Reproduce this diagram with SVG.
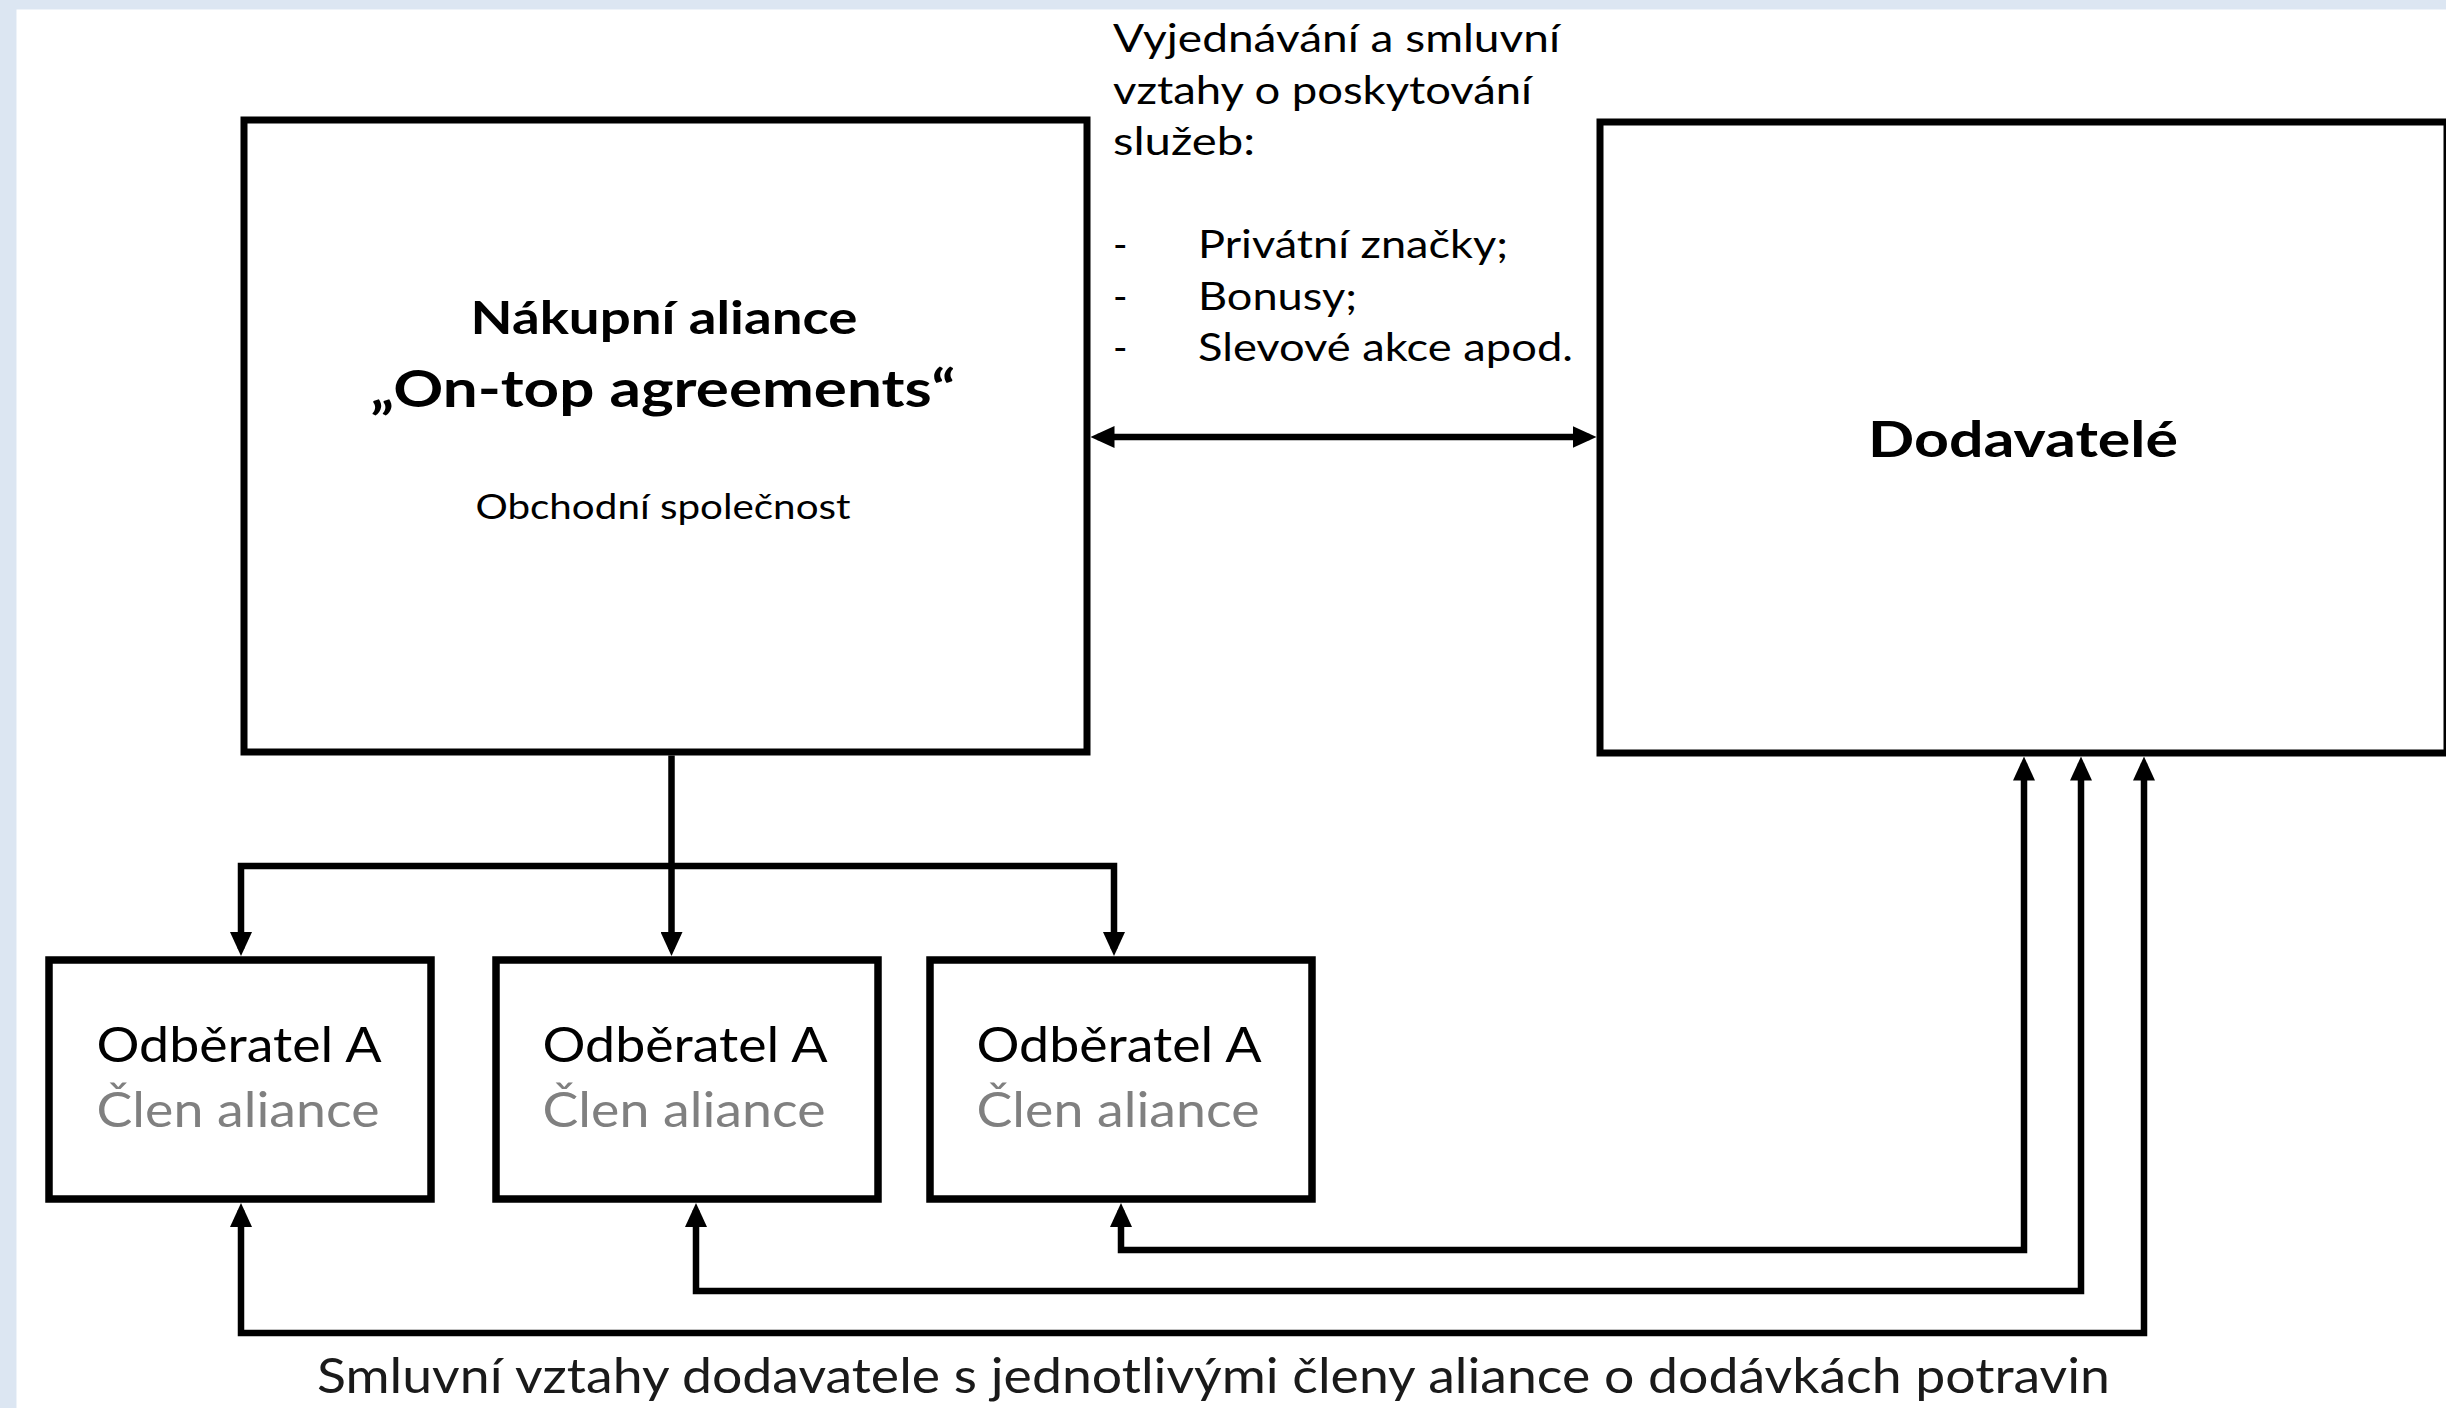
<svg xmlns="http://www.w3.org/2000/svg" width="2446" height="1408" viewBox="0 0 2446 1408">
  <style>
    text { font-family: Lato, "Open Sans", "Liberation Sans", sans-serif; fill: #000; }
    .box { fill: #fff; stroke: #000; stroke-width: 7; }
    .sbox { fill: #fff; stroke: #000; stroke-width: 7.5; }
    .conn { fill: none; stroke: #000; stroke-width: 6.5; stroke-linejoin: miter; }
    .b { font-weight: 700; }
    .mem { font-size: 48px; text-anchor: middle; }
    .gray { fill: #808080; }
    .note { font-size: 39px; }
  </style>
  <defs>
    <marker id="ah" markerUnits="userSpaceOnUse" markerWidth="24" markerHeight="22" refX="17" refY="11" orient="auto-start-reverse" viewBox="0 0 24 22">
      <path d="M0,0 L24,11 L0,22 z" fill="#000"/>
    </marker>
  </defs>

  <rect x="0" y="0" width="2446" height="1408" fill="#dce6f2"/>
  <rect x="16.5" y="9.5" width="2430" height="1399" fill="#fff"/>

  <g id="connectors">
    <path class="conn" d="M1097.5 437 H1589.5" marker-start="url(#ah)" marker-end="url(#ah)"/>
    <path class="conn" d="M671.5 755.5 V949" marker-end="url(#ah)"/>
    <path class="conn" d="M241 949 V866 H1114 V949" marker-start="url(#ah)" marker-end="url(#ah)"/>
    <path class="conn" d="M1121 1210 V1250 H2024 V763.5" marker-start="url(#ah)" marker-end="url(#ah)"/>
    <path class="conn" d="M696 1210 V1291 H2081 V763.5" marker-start="url(#ah)" marker-end="url(#ah)"/>
    <path class="conn" d="M241 1210 V1333 H2144 V763.5" marker-start="url(#ah)" marker-end="url(#ah)"/>
  </g>

  <g id="node-alliance">
    <rect class="box" x="244" y="120" width="843" height="632"/>
    <text class="b" x="664" y="334" font-size="46.5" text-anchor="middle" textLength="387" lengthAdjust="spacingAndGlyphs">Nákupní aliance</text>
    <text class="b" x="663" y="407" font-size="52" text-anchor="middle" textLength="585" lengthAdjust="spacingAndGlyphs">„On-top agreements“</text>
    <text x="663" y="519" font-size="35" text-anchor="middle" textLength="375" lengthAdjust="spacingAndGlyphs">Obchodní společnost</text>
  </g>

  <g id="node-suppliers">
    <rect class="box" x="1600" y="122" width="847" height="631"/>
    <text class="b" x="2023" y="457" font-size="49" text-anchor="middle" textLength="310" lengthAdjust="spacingAndGlyphs">Dodavatelé</text>
  </g>

  <g id="node-member1">
    <rect class="sbox" x="49" y="960" width="382" height="239"/>
    <text class="mem" x="239" y="1061.5" textLength="285" lengthAdjust="spacingAndGlyphs">Odběratel A</text>
    <text class="mem gray" x="238" y="1126.5" textLength="283" lengthAdjust="spacingAndGlyphs">Člen aliance</text>
  </g>

  <g id="node-member2">
    <rect class="sbox" x="496" y="960" width="382" height="239"/>
    <text class="mem" x="685" y="1061.5" textLength="285" lengthAdjust="spacingAndGlyphs">Odběratel A</text>
    <text class="mem gray" x="684" y="1126.5" textLength="283" lengthAdjust="spacingAndGlyphs">Člen aliance</text>
  </g>

  <g id="node-member3">
    <rect class="sbox" x="930" y="960" width="382" height="239"/>
    <text class="mem" x="1119" y="1061.5" textLength="285" lengthAdjust="spacingAndGlyphs">Odběratel A</text>
    <text class="mem gray" x="1118" y="1126.5" textLength="283" lengthAdjust="spacingAndGlyphs">Člen aliance</text>
  </g>

  <g id="label-negotiation">
    <text class="note" x="1113" y="52" textLength="447" lengthAdjust="spacingAndGlyphs">Vyjednávání a smluvní</text>
    <text class="note" x="1113" y="103.5" textLength="419" lengthAdjust="spacingAndGlyphs">vztahy o poskytování</text>
    <text class="note" x="1113" y="155" textLength="142" lengthAdjust="spacingAndGlyphs">služeb:</text>
    <text class="note" x="1113" y="258">-</text>
    <text class="note" x="1113" y="309.5">-</text>
    <text class="note" x="1113" y="361">-</text>
    <text class="note" x="1198" y="258" textLength="310" lengthAdjust="spacingAndGlyphs">Privátní značky;</text>
    <text class="note" x="1198" y="309.5" textLength="159" lengthAdjust="spacingAndGlyphs">Bonusy;</text>
    <text class="note" x="1198" y="361" textLength="375" lengthAdjust="spacingAndGlyphs">Slevové akce apod.</text>
  </g>

  <g id="label-bottom">
    <text x="317" y="1393" font-size="49" style="fill:#1a1a1a" textLength="1793" lengthAdjust="spacingAndGlyphs">Smluvní vztahy dodavatele s jednotlivými členy aliance o dodávkách potravin</text>
  </g>
</svg>
